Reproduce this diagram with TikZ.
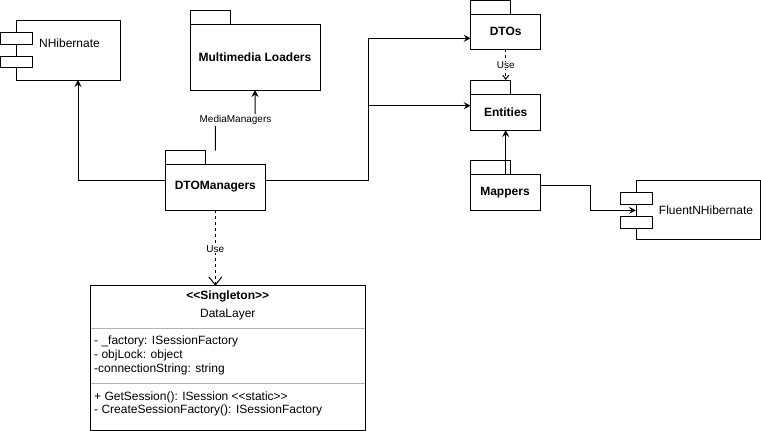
\documentclass[tikz,border=0pt]{standalone}
\usepackage{fontspec}
\setmainfont{Liberation Sans}
\usetikzlibrary{arrows.meta}
\newcommand{\rectnode}[7]{\node[#6, anchor=north west, minimum width={(#4-#2)*1pt}, minimum height={(#5-#3)*1pt}] (#1) at (#2,#3) {#7};}
\tikzset{
  shp/.style={inner sep=0pt, outer sep=0pt, line width=1pt, draw=black, fill=white},
  pkgtxt/.style={font=\fontsize{12}{14}\selectfont\bfseries},
  lbl/.style={font=\fontsize{10}{12}\selectfont, fill=white, inner sep=1pt},
  txt/.style={font=\fontsize{12}{14}\selectfont, inner sep=0pt},
  arr/.style={line width=1pt, -{Stealth[length=7pt,width=7pt,inset=2.5pt]}},
  dep/.style={line width=1pt, dash pattern=on 3pt off 3pt, -{Straight Barb[length=8pt,width=13pt,line width=1pt]}},
  depsmall/.style={line width=1pt, dash pattern=on 3pt off 3pt, -{Straight Barb[length=4pt,width=6pt,line width=1pt]}},
  sep/.style={line width=1pt, draw=black!30},
}
\begin{document}
\begin{tikzpicture}[x=1pt,y=-1pt]
\useasboundingbox (0,0) rectangle (761,431);

% ---- shapes ----
% NHibernate component
\rectnode{NH}{16}{20}{120}{80}{shp}{}
\rectnode{NHa}{0.5}{32.7}{32}{44}{shp}{}
\rectnode{NHb}{0.5}{56.7}{32}{67.7}{shp}{}
\node[txt] (NHt) at (69.5,43.3) {NHibernate};

% Multimedia Loaders package
\rectnode{MLt}{190}{10.7}{230.7}{24.3}{shp}{}
\rectnode{ML}{190}{24.3}{320}{90}{shp,pkgtxt}{Multimedia Loaders}

% DTOManagers package
\rectnode{DMt}{165.7}{150.7}{205}{164}{shp}{}
\rectnode{DM}{165.7}{164}{265}{210}{shp,pkgtxt}{DTOManagers}

% DTOs package
\rectnode{DTt}{470.7}{0.5}{510}{14}{shp}{}
\rectnode{DT}{470.7}{14}{540.7}{49.3}{shp,pkgtxt}{DTOs}

% Entities package
\rectnode{ENt}{470.7}{80}{510}{94.3}{shp}{}
\rectnode{EN}{470.7}{94.3}{540.7}{130}{shp,pkgtxt}{Entities}

% Mappers package
\rectnode{MPt}{470}{160.7}{510.7}{174}{shp}{}
\rectnode{MP}{470}{174}{540}{210.7}{shp,pkgtxt}{Mappers}

% FluentNHibernate component
\rectnode{FN}{636}{180}{760}{239.3}{shp}{}
\rectnode{FNa}{620.7}{192.3}{652.3}{204}{shp}{}
\rectnode{FNb}{620.7}{216.7}{652.3}{228.3}{shp}{}
\node[txt] (FNt) at (706,210) {FluentNHibernate};

% DataLayer class
\rectnode{DL}{90.7}{285.7}{365}{430.7}{shp}{}
\node[txt, font=\fontsize{12}{14}\selectfont\bfseries] (DLs) at (227.8,296.7) {<{}<Singleton>{}>};
\node[txt] (DLn) at (227.8,314.3) {DataLayer};
\coordinate (s1a) at (90.7,328.3); \coordinate (s1b) at (365,328.3);
\coordinate (s2a) at (90.7,383.3); \coordinate (s2b) at (365,383.3);
\draw[sep] ([xshift=0.5pt]s1a) -- ([xshift=-0.5pt]s1b);
\draw[sep] ([xshift=0.5pt]s2a) -- ([xshift=-0.5pt]s2b);
\node[txt, anchor=west] (a1) at (94,341) {- \_factory: ISessionFactory};
\node[txt, anchor=west] (a2) at (94,355.7) {- objLock: object};
\node[txt, anchor=west] (a3) at (94,369.3) {-connectionString: string};
\node[txt, anchor=west] (m1) at (94,397.3) {+ GetSession(): ISession <{}<static>{}>};
\node[txt, anchor=west] (m2) at (94,410.7) {- CreateSessionFactory(): ISessionFactory};

% ---- connectors ----
\coordinate (j1) at (78,180);
\draw[arr] (DM.west |- j1) -| (NH.south -| j1);

\coordinate (mm1) at (215.35,120);
\coordinate (mm2) at (ML.south |- mm1);
\draw[arr] (DM.center |- DMt.north) -- (mm1) -- (mm2) -- (ML.south);
\node[lbl] (mmlbl) at (235.5,120) {MediaManagers};

\coordinate (jr) at (368.3,180);
\coordinate (jdt) at (368.3,38.3);
\coordinate (jen) at (368.3,105.7);
\draw[arr] (DM.east |- jr) -- (jr) -- (jdt) -- (DT.west |- jdt);
\draw[arr] (jen) -- (EN.west |- jen);

\coordinate (ue) at (505.7,80);
\draw[depsmall] (DT.south -| ue) -- (ue);
\node[lbl, inner sep=0.5pt] (uselbl1) at (505.7,65.5) {Use};

\draw[arr] (MP.north -| ue |- MPt.north) -- (EN.south -| ue);

\coordinate (mf1) at (590,185);
\coordinate (mf2) at (590,210.3);
\draw[arr] (MP.east |- mf1) -- (mf1) -- (mf2) -- (FN.west |- mf2);

\draw[dep] (DM.south -| 215.35,0) -- (DL.north -| 215.35,0);
\node[lbl] (uselbl2) at (215.35,249) {Use};
\end{tikzpicture}
\end{document}
